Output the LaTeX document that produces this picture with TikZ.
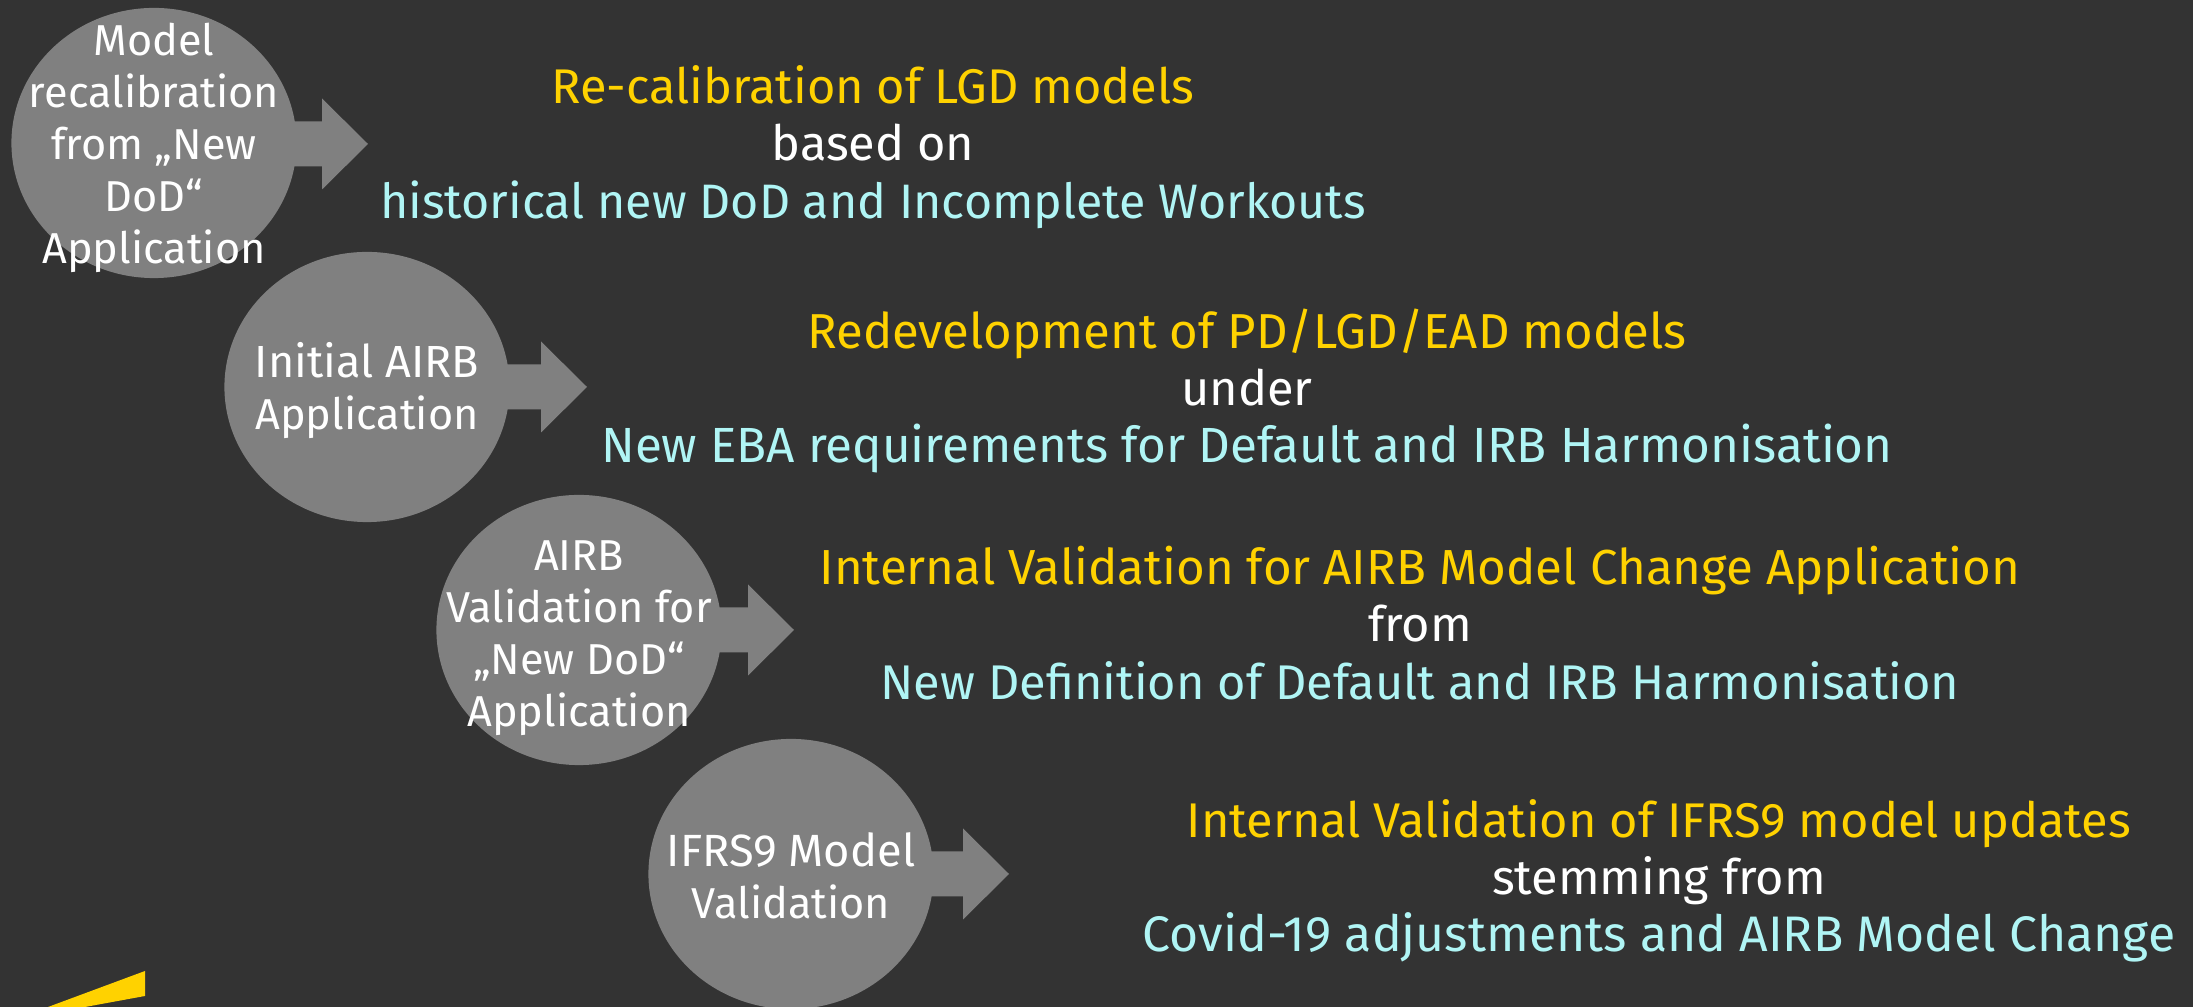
\documentclass[tikz,border=0pt]{standalone}
\usepackage{fontspec}
\setmainfont{Fira Sans}
\definecolor{bgc}{HTML}{333333}
\definecolor{disc}{HTML}{808080}
\definecolor{eyy}{HTML}{FFD200}
\definecolor{cyanish}{HTML}{B0F5F5}
\usetikzlibrary{shapes.geometric}
\tikzset{
  x=0.01cm,y=-0.01cm,
  disc/.style={ellipse,fill=disc,minimum width=2.85cm,minimum height=2.7cm,inner sep=0pt},
  disctext/.style={text=white,align=center,font=\fontsize{12.3}{14.8}\selectfont},
  headline/.style={align=center,font=\fontsize{13.85}{16.3}\selectfont},
}
\newcommand{\sized}[2]{{\fontsize{#1}{16.3}\selectfont #2}}
\newcommand{\flow}[2]{% centre y, tip x
  \fill[disc] (#2-46,#1-45.5) -- (#2,#1) -- (#2-46,#1+45.5) -- (#2-46,#1+22.5) -- (#2-150,#1+22.5) -- (#2-150,#1-22.5) -- (#2-46,#1-22.5) -- cycle;
}
\begin{document}
\begin{tikzpicture}
\fill[bgc] (0,0) rectangle (2193,1007);
\useasboundingbox (0,0) rectangle (2193,1007);
\flow{144}{368}
\flow{387}{587}
\flow{630}{794}
\flow{874}{1009}
\node[disc] (c1) at (154,143) {};
\node[disc] (c2) at (367,387) {};
\node[disc] (c3) at (579,630) {};
\node[disc] (c4) at (791,874) {};
\node[disctext] (t1) at (154,148) {Model\\recalibration\\from „New\\DoD“\\Application};
\node[disctext] (t2) at (367,391) {{\fontsize{12.8}{14.8}\selectfont Initial AIRB}\\Application};
\node[disctext] (t3) at (579,638) {AIRB\\Validation for\\„New DoD“\\Application};
\node[disctext] (t4) at (791,876) {{\fontsize{12.85}{14.8}\selectfont IFRS9 Model}\\Validation};
\node[headline] (h1) at (873,147) {\textcolor{eyy}{Re-calibration of LGD models}\\\textcolor{white}{based on}\\\textcolor{cyanish}{\sized{13.75}{historical new DoD and Incomplete Workouts}}};
\node[headline] (h2) at (1247,391) {\textcolor{eyy}{\sized{13.95}{Redevelopment of PD/LGD/EAD models}}\\\textcolor{white}{under}\\\textcolor{cyanish}{\sized{14.05}{New EBA requirements for Default and IRB Harmonisation}}};
\node[headline] (h3) at (1420,623) {\textcolor{eyy}{\sized{14}{Internal Validation for AIRB Model Change Application}}\\\textcolor{white}{from}\\\textcolor{cyanish}{New Definition of Default and IRB Harmonisation}};
\node[headline] (h4) at (1659,881) {\textcolor{eyy}{Internal Validation of IFRS9 model updates}\\\textcolor{white}{stemming from}\\\textcolor{cyanish}{\sized{14.2}{Covid-19 adjustments and AIRB Model Change}}};
\fill[eyy] (48,1007) -- (145,971) -- (145,996) -- (85,1007) -- cycle;
\end{tikzpicture}
\end{document}
